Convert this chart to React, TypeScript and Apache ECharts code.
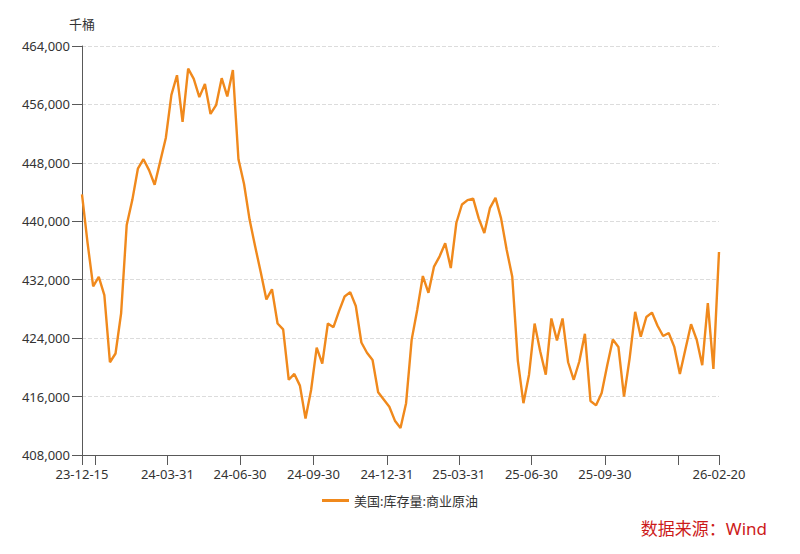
import React, { useEffect, useRef } from "react";
import * as echarts from "echarts";

const FONT = '"Noto Sans", "Noto Sans CJK SC", sans-serif';
const SERIES_NAME = "美国:库存量:商业原油";
const UNIT = "千桶";
const SOURCE = "数据来源：Wind";

const firstWeek = "2023-12-15";
// Weekly commercial crude inventories (thousand barrels), 2023-12-15 .. 2026-02-20
const inventory = [
  443700, 437000, 431100, 432400, 429900, 420700, 421900, 427400, 439500, 442900,
  447200, 448500, 447000, 445000, 448200, 451400, 457300, 460000, 453600, 460900,
  459500, 457000, 458800, 454700, 455900, 459600, 457100, 460700, 448500, 445100,
  440200, 436500, 433000, 429300, 430700, 426000, 425200, 418300, 419100, 417500,
  413000, 416900, 422700, 420500, 426000, 425500, 427700, 429700, 430300, 428400,
  423400, 422000, 421000, 416600, 415600, 414600, 412700, 411700, 415100, 423800,
  427900, 432500, 430200, 433800, 435200, 437000, 433600, 439800, 442300, 442900,
  443100, 440400, 438400, 441800, 443200, 440400, 436100, 432400, 420900, 415100,
  419000, 426000, 422200, 419000, 426700, 423700, 426700, 420700, 418300, 420800,
  424600, 415400, 414800, 416500, 420300, 423800, 422800, 416000, 421200, 427600,
  424200, 426900, 427500, 425700, 424300, 424700, 422800, 419100, 422500, 425900,
  423800, 420300, 428800, 419800, 435800,
];

const labelDates = [
  "2023-12-15", "2024-03-31", "2024-06-30", "2024-09-30", "2024-12-31",
  "2025-03-31", "2025-06-30", "2025-09-30", "2026-02-20",
];
const tickDates = [
  "2023-12-15", "2023-12-31", "2024-03-31", "2024-06-30", "2024-09-30", "2024-12-31",
  "2025-03-31", "2025-06-30", "2025-09-30", "2025-12-31", "2026-02-20",
];
const yMin = 408000;
const yMax = 464000;
const yStep = 8000;

const toTs = (s: string) => {
  const [y, m, d] = s.split("-").map(Number);
  return Date.UTC(y, m - 1, d);
};
const DAY = 86400000;
const pad = (n: number) => (n < 10 ? "0" + n : "" + n);
const fmtDate = (v: number) => {
  const d = new Date(v);
  return `${pad(d.getUTCFullYear() % 100)}-${pad(d.getUTCMonth() + 1)}-${pad(d.getUTCDate())}`;
};

export default function App() {
  const ref = useRef<HTMLDivElement>(null);
  useEffect(() => {
    if (!ref.current) return;
    const chart = echarts.init(ref.current, null, { renderer: "svg" });
    const start = toTs(firstWeek);
    const data = inventory.map((v, i) => [start + i * 7 * DAY, v]);
    const axisColor = "#595959";
    chart.setOption({
      animation: false,
      grid: { left: 82, right: 81, top: 46, bottom: 99, containLabel: false },
      xAxis: {
        type: "value",
        scale: true,
        min: toTs(labelDates[0]),
        max: toTs(labelDates[labelDates.length - 1]),
        axisLine: { show: true, lineStyle: { color: axisColor, width: 1 } },
        axisTick: {
          show: true,
          length: 10,
          customValues: tickDates.map(toTs),
          lineStyle: { color: axisColor },
        },
        axisLabel: {
          customValues: labelDates.map(toTs),
          formatter: (v: number) => fmtDate(v),
          color: "#333",
          fontSize: 13,
          fontFamily: FONT,
          margin: 12,
          hideOverlap: false,
        },
        splitLine: { show: false },
      },
      yAxis: {
        type: "value",
        min: yMin,
        max: yMax,
        interval: yStep,
        name: UNIT,
        nameLocation: "end",
        nameGap: 16,
        nameTextStyle: { color: "#333", fontSize: 13, fontFamily: FONT, align: "center" },
        axisLine: { show: true, lineStyle: { color: axisColor, width: 1 } },
        axisTick: { show: true, length: 10, lineStyle: { color: axisColor } },
        axisLabel: {
          formatter: (v: number) => v.toLocaleString("en-US"),
          color: "#333",
          fontSize: 13,
          fontFamily: FONT,
          margin: 12,
        },
        splitLine: { show: true, lineStyle: { type: "dashed", color: "#dcdcdc", width: 1 } },
      },
      legend: {
        left: "center",
        top: 489,
        itemWidth: 27,
        itemHeight: 3,
        itemGap: 10,
        textStyle: { color: "#333", fontSize: 13, fontFamily: FONT },
        data: [{ name: SERIES_NAME, icon: "rect" }],
      },
      series: [
        {
          type: "line",
          name: SERIES_NAME,
          data,
          symbol: "none",
          lineStyle: { color: "#F0891C", width: 2.4 },
          itemStyle: { color: "#F0891C" },
        },
      ],
      graphic: [
        {
          type: "text",
          right: 33,
          top: 520,
          style: { text: SOURCE, fill: "#CC1A1A", fontSize: 17, fontFamily: FONT },
        },
      ],
    });
    return () => chart.dispose();
  }, []);
  return (
    <div
      ref={ref}
      style={{ position: "absolute", left: 0, top: 0, width: 800, height: 554 }}
    />
  );
}
